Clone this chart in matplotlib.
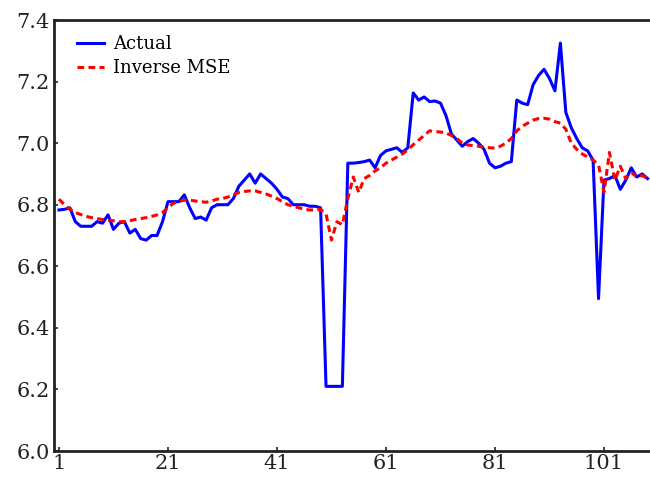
import numpy as np
import matplotlib
matplotlib.use("Agg")
import matplotlib.pyplot as plt

# series values (index 1..109)
actual = [
    6.783, 6.785, 6.79, 6.745, 6.73, 6.73, 6.73, 6.745, 6.74, 6.767,
    6.72, 6.74, 6.745, 6.708, 6.72, 6.69, 6.685, 6.70, 6.70, 6.745,
    6.81, 6.81, 6.81, 6.832, 6.79, 6.755, 6.76, 6.75, 6.79, 6.80,
    6.80, 6.80, 6.82, 6.86, 6.88, 6.90, 6.87, 6.90, 6.885, 6.87,
    6.85, 6.825, 6.82, 6.80, 6.80, 6.80, 6.795, 6.795, 6.79, 6.21,
    6.21, 6.21, 6.21, 6.935, 6.935, 6.937, 6.94, 6.945, 6.92, 6.96,
    6.975, 6.98, 6.985, 6.97, 6.985, 7.163, 7.14, 7.15, 7.135, 7.137,
    7.13, 7.09, 7.03, 7.01, 6.99, 7.005, 7.015, 7.00, 6.98, 6.935,
    6.92, 6.925, 6.935, 6.94, 7.14, 7.13, 7.125, 7.19, 7.22, 7.24,
    7.21, 7.17, 7.325, 7.10, 7.05, 7.015, 6.985, 6.975, 6.945, 6.495,
    6.88, 6.885, 6.895, 6.85, 6.88, 6.92, 6.89, 6.90, 6.885,
]
inverse_mse = [
    6.818, 6.80, 6.785, 6.775, 6.768, 6.762, 6.758, 6.755, 6.752, 6.75,
    6.748, 6.745, 6.745, 6.748, 6.752, 6.755, 6.758, 6.762, 6.767, 6.775,
    6.79, 6.805, 6.81, 6.815, 6.815, 6.812, 6.81, 6.808, 6.812, 6.818,
    6.82, 6.825, 6.832, 6.84, 6.843, 6.845, 6.845, 6.84, 6.835, 6.828,
    6.82, 6.81, 6.80, 6.795, 6.79, 6.785, 6.783, 6.783, 6.785, 6.77,
    6.685, 6.745, 6.735, 6.82, 6.89, 6.84, 6.885, 6.895, 6.91, 6.92,
    6.935, 6.945, 6.955, 6.965, 6.978, 6.995, 7.01, 7.025, 7.04, 7.038,
    7.036, 7.033, 7.025, 7.015, 7.00, 6.994, 6.992, 6.99, 6.987, 6.985,
    6.984, 6.99, 7.00, 7.015, 7.04, 7.055, 7.065, 7.075, 7.08, 7.081,
    7.078, 7.07, 7.065, 7.045, 7.00, 6.98, 6.965, 6.955, 6.945, 6.93,
    6.84, 6.97, 6.88, 6.925, 6.885, 6.905, 6.89, 6.895, 6.885,
]
xticks = [1, 21, 41, 61, 81, 101]
yticks = [6.0, 6.2, 6.4, 6.6, 6.8, 7.0, 7.2, 7.4]

plt.rcParams['font.family'] = ['DejaVu Serif']

x = np.arange(1, len(actual) + 1)

fig = plt.figure(figsize=(6.5, 4.8), dpi=100)
ax = fig.add_axes([0.083, 0.0604, 0.92, 0.8979])

ax.plot(x, actual, color='#0000ff', lw=2.2, label='Actual')
ax.plot(x, inverse_mse, color='#ff0000', lw=2.2, ls=(0, (2.2, 1.4)), label='Inverse MSE')

ax.set_xlim(0.08, 109.8)
ax.set_ylim(6.0, 7.4)
ax.set_xticks(xticks)
ax.set_yticks(yticks)
ax.set_yticklabels([f"{v:.1f}" for v in yticks])
ax.tick_params(direction='in', length=3, width=1.2, labelsize=15, colors='#222222')
ax.tick_params(axis='x', pad=2)
ax.tick_params(axis='y', pad=3)
for s in ax.spines.values():
    s.set_linewidth(2)
    s.set_color('#222222')

ax.legend(loc='upper left', bbox_to_anchor=(0.038, 0.965), frameon=False,
          fontsize=13, handlelength=1.5, handletextpad=0.5, labelspacing=0.35,
          borderaxespad=0, borderpad=0)

fig.savefig('out.png', dpi=100)
